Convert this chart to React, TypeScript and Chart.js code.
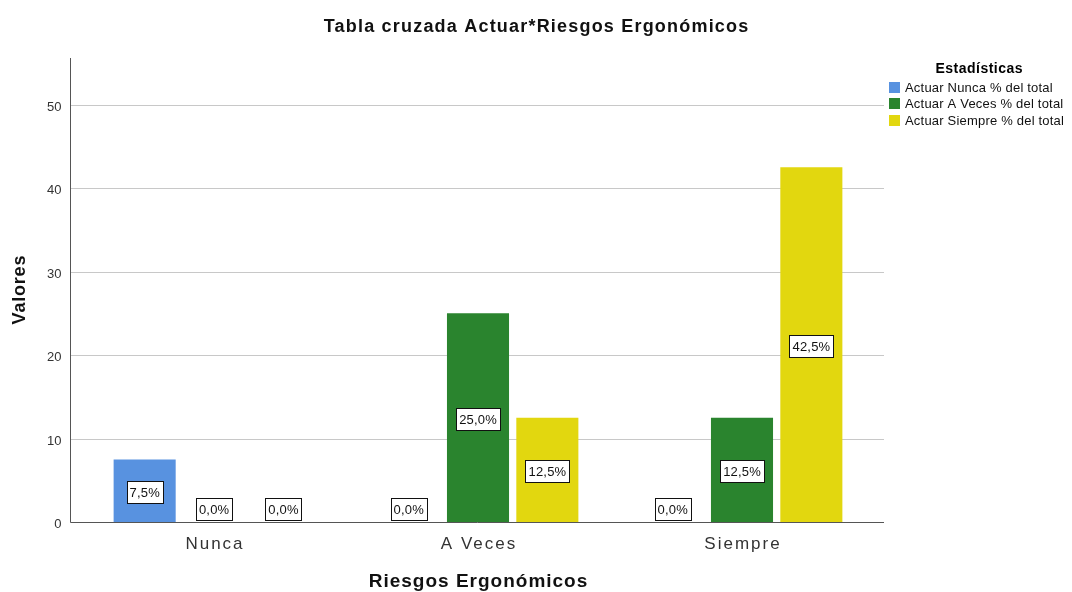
import React, { useEffect, useRef } from "react";
import { Chart, registerables } from "chart.js";

Chart.register(...registerables);

const categories = ["Nunca", "A Veces", "Siempre"];
const seriesNames = [
  "Actuar Nunca % del total",
  "Actuar A Veces % del total",
  "Actuar Siempre % del total",
];
const nuncaValues = [7.5, 0, 0];
const aVecesValues = [0, 25, 12.5];
const siempreValues = [0, 12.5, 42.5];
const seriesColors = ["#5892e0", "#2a842e", "#e2d70f"];
const yTicks = [0, 10, 20, 30, 40, 50];
const titleText = "Tabla cruzada Actuar*Riesgos Ergonómicos";
const xTitle = "Riesgos Ergonómicos";
const yTitle = "Valores";
const legendTitle = "Estadísticas";

const FONT = "'Liberation Sans', Arial, sans-serif";

const fmt = (v: number) => v.toFixed(1).replace(".", ",") + "%";

function drawText(
  ctx: any,
  txt: string,
  x: number,
  y: number,
  font: string,
  spacing: number,
  align: "left" | "center" | "right",
  color: string,
  baseline: string = "alphabetic"
) {
  ctx.font = font;
  ctx.letterSpacing = spacing + "px";
  ctx.fillStyle = color;
  ctx.textBaseline = baseline;
  ctx.textAlign = "left";
  const w = ctx.measureText(txt).width - spacing;
  let sx = x;
  if (align === "center") sx = x - w / 2;
  else if (align === "right") sx = x - w;
  ctx.fillText(txt, sx, y);
  ctx.letterSpacing = "0px";
  return w;
}

const decorPlugin = {
  id: "decor",
  beforeDatasetsDraw(chart: any) {
    const { ctx, chartArea } = chart;
    const y = chart.scales.y;
    const x0 = chartArea.left - 12;
    const x1 = chartArea.right + 10;
    ctx.save();
    ctx.strokeStyle = "#c8c8c8";
    ctx.lineWidth = 1;
    yTicks.forEach((t) => {
      if (t === 0) return;
      const py = Math.round(y.getPixelForValue(t)) + 0.5;
      ctx.beginPath();
      ctx.moveTo(x0, py);
      ctx.lineTo(x1, py);
      ctx.stroke();
    });
    ctx.restore();
  },
  afterDatasetsDraw(chart: any) {
    const { ctx, chartArea } = chart;
    const y = chart.scales.y;
    const x = chart.scales.x;
    const x0 = chartArea.left - 12;
    const x1 = chartArea.right + 10;
    ctx.save();
    // axes lines
    ctx.strokeStyle = "#555";
    ctx.lineWidth = 1;
    const by = Math.round(y.getPixelForValue(0)) + 0.5;
    ctx.beginPath();
    ctx.moveTo(x0 + 0.5, chartArea.top);
    ctx.lineTo(x0 + 0.5, by);
    ctx.lineTo(x1, by);
    ctx.stroke();

    // y tick labels
    yTicks.forEach((t) => {
      drawText(ctx, String(t), x0 - 8.5, y.getPixelForValue(t) + 2.5, `13px ${FONT}`, 0, "right", "#333", "middle");
    });
    // x tick labels
    categories.forEach((c, i) => {
      drawText(ctx, c, x.getPixelForValue(i), by + 26, `17px ${FONT}`, 2.0, "center", "#333");
    });
    // axis titles
    drawText(ctx, xTitle, (chartArea.left + chartArea.right) / 2, by + 64, `bold 19px ${FONT}`, 1.0, "center", "#111");
    ctx.save();
    ctx.translate(25, (chartArea.top + chartArea.bottom) / 2);
    ctx.rotate(-Math.PI / 2);
    drawText(ctx, yTitle, 0, 0, `bold 18px ${FONT}`, 0.8, "center", "#111");
    ctx.restore();
    // chart title
    drawText(ctx, titleText, 536, 32, `bold 18px ${FONT}`, 1.2, "center", "#111");

    // data labels
    chart.data.datasets.forEach((ds: any, di: number) => {
      const meta = chart.getDatasetMeta(di);
      meta.data.forEach((el: any, i: number) => {
        const v = ds.data[i];
        const txt = fmt(v);
        ctx.font = `13px ${FONT}`;
        ctx.letterSpacing = "0.2px";
        const tw = ctx.measureText(txt).width;
        ctx.letterSpacing = "0px";
        const w = Math.round(tw + 6);
        const h = 22;
        let cy = (el.y + el.base) / 2 + 1.5;
        const maxCy = el.base - 13;
        if (cy > maxCy) cy = maxCy;
        const bx = Math.round(el.x - w / 2) + 0.5;
        const byy = Math.round(cy - h / 2) + 0.5;
        ctx.fillStyle = "#ffffff";
        ctx.fillRect(bx, byy, w, h);
        ctx.strokeStyle = "#111";
        ctx.lineWidth = 1;
        ctx.strokeRect(bx, byy, w, h);
        drawText(ctx, txt, el.x, cy + 1, `13px ${FONT}`, 0.2, "center", "#111", "middle");
      });
    });

    // legend
    const lx = chartArea.right + 15;
    drawText(ctx, legendTitle, 979, 73, `bold 14px ${FONT}`, 0.5, "center", "#000");
    seriesNames.forEach((n, i) => {
      const ry = 87 + i * 16.5;
      ctx.fillStyle = seriesColors[i];
      ctx.fillRect(lx, Math.round(ry - 5.5), 11, 11);
      drawText(ctx, n, lx + 16, ry + 4.5, `13px ${FONT}`, 0.2, "left", "#111");
    });
    ctx.restore();
  },
};

export default function App() {
  const ref = useRef<HTMLCanvasElement>(null);
  useEffect(() => {
    document.body.style.margin = "0";
    const canvas = ref.current!;
    const chart = new Chart(canvas, {
      type: "bar",
      data: {
        labels: categories,
        datasets: [nuncaValues, aVecesValues, siempreValues].map((d, i) => ({
          label: seriesNames[i],
          data: d,
          backgroundColor: seriesColors[i],
          borderWidth: 0,
          categoryPercentage: 0.788,
          barPercentage: 0.895,
        })),
      },
      options: {
        responsive: false,
        animation: false,
        devicePixelRatio: 1,
        layout: { padding: { left: 82, right: 198, top: 58, bottom: 70 } },
        plugins: {
          legend: { display: false },
          tooltip: { enabled: false },
          title: { display: false },
        },
        scales: {
          x: { display: false },
          y: { display: false, min: 0, max: 55.6 },
        },
      },
      plugins: [decorPlugin],
    });
    return () => chart.destroy();
  }, []);
  return (
    <div style={{ width: 1072, height: 592 }}>
      <canvas ref={ref} width={1072} height={592} />
    </div>
  );
}
